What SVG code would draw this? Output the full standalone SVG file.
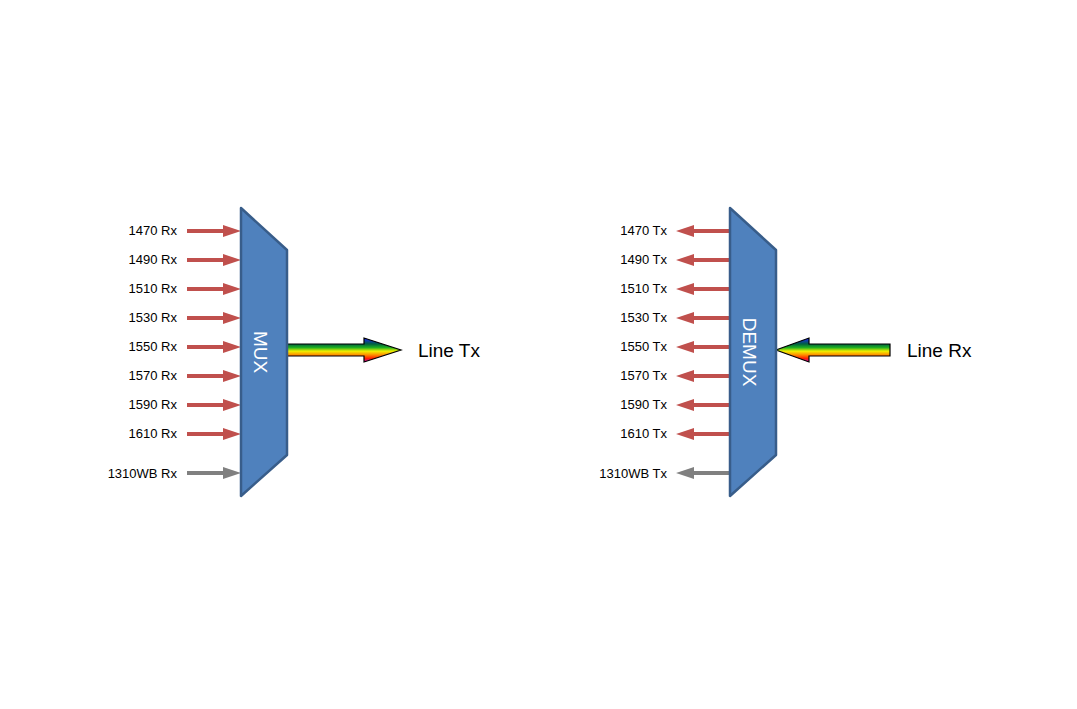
<svg xmlns="http://www.w3.org/2000/svg" width="1077" height="709" viewBox="0 0 1077 709">
<style>
.lbl{font-family:"Liberation Sans",Arial,sans-serif;font-size:13px;fill:#000}
.big{font-family:"Liberation Sans",Arial,sans-serif;font-size:19px;fill:#000}
.box{fill:#4F81BD;stroke:#385D8A;stroke-width:2.5;stroke-linejoin:round}
.btxt{font-family:"Liberation Sans",Arial,sans-serif;font-size:19px;fill:#fff}
.r{fill:#C0504D}.g{fill:#808080}
.rb{fill:url(#rain);stroke:#000;stroke-width:1.2}
</style>
<defs>
<linearGradient id="rain" x1="0" y1="0" x2="0" y2="1">
<stop offset="0" stop-color="#2020ff"/>
<stop offset="0.25" stop-color="#006040"/>
<stop offset="0.4" stop-color="#20b020"/>
<stop offset="0.55" stop-color="#f0f000"/>
<stop offset="0.7" stop-color="#ff9000"/>
<stop offset="0.85" stop-color="#ff2000"/>
<stop offset="1" stop-color="#c000c0"/>
</linearGradient>
<path id="ra" d="M0,-2 L36,-2 L36,-6 L54,0 L36,6 L36,2 L0,2 Z"/>
<path id="la" d="M0,-2 L-36,-2 L-36,-6 L-54,0 L-36,6 L-36,2 L0,2 Z"/>
</defs>
<g id="connectors">
<use href="#ra" x="187" y="231" class="r"/><use href="#ra" x="187" y="260" class="r"/><use href="#ra" x="187" y="289" class="r"/><use href="#ra" x="187" y="318" class="r"/><use href="#ra" x="187" y="347" class="r"/><use href="#ra" x="187" y="376" class="r"/><use href="#ra" x="187" y="405" class="r"/><use href="#ra" x="187" y="434" class="r"/><use href="#ra" x="187" y="473" class="g"/>
<use href="#la" x="730" y="231" class="r"/><use href="#la" x="730" y="260" class="r"/><use href="#la" x="730" y="289" class="r"/><use href="#la" x="730" y="318" class="r"/><use href="#la" x="730" y="347" class="r"/><use href="#la" x="730" y="376" class="r"/><use href="#la" x="730" y="405" class="r"/><use href="#la" x="730" y="434" class="r"/><use href="#la" x="730" y="473" class="g"/>
<path class="rb" d="M287,344 L364,344 L364,338 L401,350 L364,362 L364,356 L287,356 Z"/>
<path class="rb" d="M890,344 L809,344 L809,338 L776,350 L809,362 L809,356 L890,356 Z"/>
</g>
<g id="mux">
<polygon class="box" points="241,208 287,250 287,455 241,496"/>
<text class="btxt" transform="translate(254,352) rotate(90)" text-anchor="middle">MUX</text>
</g>
<g id="demux">
<polygon class="box" points="730,208 776,250 776,455 730,496"/>
<text class="btxt" transform="translate(743,352) rotate(90)" text-anchor="middle">DEMUX</text>
</g>
<g id="labels">
<g class="lbl" text-anchor="end">
<text x="177" y="235">1470 Rx</text><text x="177" y="264">1490 Rx</text><text x="177" y="293">1510 Rx</text><text x="177" y="322">1530 Rx</text><text x="177" y="351">1550 Rx</text><text x="177" y="380">1570 Rx</text><text x="177" y="409">1590 Rx</text><text x="177" y="438">1610 Rx</text><text x="177" y="478">1310WB Rx</text>
<text x="667" y="235">1470 Tx</text><text x="667" y="264">1490 Tx</text><text x="667" y="293">1510 Tx</text><text x="667" y="322">1530 Tx</text><text x="667" y="351">1550 Tx</text><text x="667" y="380">1570 Tx</text><text x="667" y="409">1590 Tx</text><text x="667" y="438">1610 Tx</text><text x="667" y="478">1310WB Tx</text>
</g>
<text class="big" x="418" y="357">Line Tx</text>
<text class="big" x="907" y="357">Line Rx</text>
</g>
</svg>
